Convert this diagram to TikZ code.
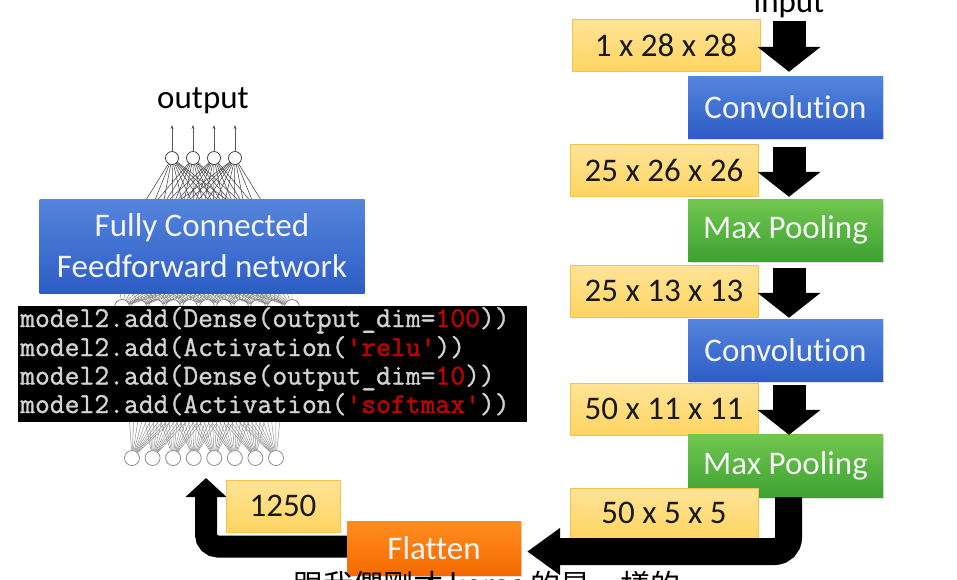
\documentclass[tikz,border=0pt]{standalone}
\usepackage{fontspec}
\setmainfont{Carlito}[Ligatures=NoCommon]
\setmonofont{Latin Modern Mono}[FakeBold=1.2]
\newfontfamily\cjkfont{Noto Sans CJK TC}
\usetikzlibrary{arrows.meta,shadows}
\definecolor{yelTop}{HTML}{FFE497}
\definecolor{yelBot}{HTML}{FFD562}
\definecolor{yelEdge}{HTML}{F3C24A}
\definecolor{bluTop}{HTML}{5585DC}
\definecolor{bluBot}{HTML}{2D5DC5}
\definecolor{grnTop}{HTML}{72C650}
\definecolor{grnBot}{HTML}{3EA232}
\definecolor{orgTop}{HTML}{FF8D1F}
\definecolor{orgBot}{HTML}{F56A00}
\definecolor{codegray}{HTML}{D2D2D2}
\definecolor{codered}{HTML}{C40000}
\definecolor{txtwhite}{HTML}{F4F4F4}
\tikzset{
  lab/.style={font=\fontsize{33}{40}\selectfont, inner sep=0pt},
  dimbox/.style={lab, rectangle, top color=yelTop, bottom color=yelBot, draw=yelEdge, line width=0.8pt, minimum width=188pt, minimum height=52pt, text=black!90},
  opbox/.style={lab, rectangle, minimum width=195pt, minimum height=62pt, text=txtwhite, drop shadow={opacity=0.25, shadow xshift=1pt, shadow yshift=-1.5pt}},
  convbox/.style={opbox, top color=bluTop, bottom color=bluBot},
  poolbox/.style={opbox, top color=grnTop, bottom color=grnBot},
  blockarrow/.style={line width=33pt, -{Triangle[width=62pt,length=25pt]}},
  bigarrow/.style={line width=27pt, rounded corners=14pt, -{Triangle[width=45pt,length=33pt]}},
  backarrow/.style={line width=22pt, rounded corners=12pt, -{Triangle[width=40pt,length=19pt]}},
  topneuron/.style={circle, draw=black!80, fill=white, line width=0.7pt, minimum size=13pt, inner sep=0pt},
  midneuron/.style={circle, draw=black!55, fill=white, line width=0.7pt, minimum size=15pt, inner sep=0pt},
  lowneuron/.style={circle, draw=black!45, fill=white, line width=0.8pt, minimum size=15pt, inner sep=0pt},
  tline/.style={draw=black!72, line width=0.55pt},
  mline/.style={draw=black!50, line width=0.45pt},
  bline/.style={draw=black!42, line width=0.5pt},
  outarrow/.style={draw=black!65, line width=0.6pt, -{Stealth[length=4pt,width=3pt]}},
  codeline/.style={anchor=base west, inner sep=0pt, font=\ttfamily\fontsize{28.8}{29}\selectfont, text=codegray}
}
\begin{document}
\begin{tikzpicture}[x=1pt,y=-1pt]
\useasboundingbox (0,0) rectangle (957,579);
\fill[white] (0,0) rectangle (957,579);

% ---------- neural network (left) ----------
\node[lab, anchor=base] (outlbl) at (203,108) {output};
\foreach \i/\x in {1/172,2/193,3/214,4/235} {
  \node[topneuron] (t\i) at (\x,158) {};
  \coordinate (o\i) at (\x,125);
}
\foreach \i in {1,...,10} {
  \pgfmathsetmacro\xx{115+(\i-1)*19.667}
  \coordinate (h\i) at (\xx,250);
}
\foreach \i in {1,...,11} {
  \pgfmathsetmacro\xx{122+(\i-1)*17}
  \node[midneuron] (a\i) at (\xx,307) {};
}
\foreach \i in {1,...,8} {
  \pgfmathsetmacro\xx{132+(\i-1)*20.57}
  \node[lowneuron] (b\i) at (\xx,458) {};
}
\foreach \i in {1,...,4} {
  \draw[outarrow] (t\i) -- (o\i);
  \foreach \j in {1,...,10} { \draw[tline] (t\i) -- (h\j); }
}
\foreach \i in {1,...,10} {
  \foreach \j in {1,...,11} { \draw[mline] (h\i) -- (a\j); }
}
\foreach \i in {1,...,11} {
  \foreach \j in {1,...,8} { \draw[bline] (a\i) -- (b\j); }
}

\node[lab, align=center, minimum width=325pt, minimum height=94pt,
      top color=bluTop, bottom color=bluBot, text=txtwhite,
      font=\fontsize{33}{41}\selectfont] (fc) at (202,246)
      {Fully Connected\\Feedforward network};

\node[fill=black, minimum width=509pt, minimum height=116pt, inner sep=0pt] (code) at (272.5,364) {};
\node[codeline] (c1) at (20,327) {model2.add(Dense(output\_dim=\textcolor{codered}{100}))};
\node[codeline] (c2) at (20,356) {model2.add(Activation(\textcolor{codered}{'relu'}))};
\node[codeline] (c3) at (20,384.5) {model2.add(Dense(output\_dim=\textcolor{codered}{10}))};
\node[codeline] (c4) at (20,413) {model2.add(Activation(\textcolor{codered}{'softmax'}))};

% ---------- CNN pipeline (right) ----------
\node[lab, anchor=base] (inlbl) at (789,12) {input};
\node[dimbox] (d0) at (666,45) {1 x 28 x 28};
\node[convbox] (conv1) at (785.5,107) {Convolution};
\node[dimbox] (d1) at (664,170) {25 x 26 x 26};
\node[poolbox] (mp1) at (785.5,230) {Max Pooling};
\node[dimbox] (d2) at (664,291) {25 x 13 x 13};
\node[convbox] (conv2) at (785.5,350) {Convolution};
\node[dimbox] (d3) at (664,409) {50 x 11 x 11};
\node[poolbox, minimum height=63pt] (mp2) at (785.5,465.5) {Max Pooling};
\node[dimbox, minimum height=50pt] (d4) at (664,513) {50 x 5 x 5};

\draw[blockarrow, shorten <=3.4pt, shorten >=4pt] (inlbl.south) -- (inlbl.south |- conv1.north);
\draw[blockarrow, shorten <=9pt, shorten >=2pt] ([xshift=3.5pt]conv1.south) -- ([xshift=3.5pt]mp1.north);
\draw[blockarrow, shorten <=7pt, shorten >=1pt] ([xshift=3.5pt]mp1.south) -- ([xshift=3.5pt]conv2.north);
\draw[blockarrow, shorten <=4pt, shorten >=-1pt] ([xshift=3.5pt]conv2.south) -- ([xshift=3.5pt]mp2.north);

% ---------- flatten ----------
\coordinate (fcin) at (206,478);
\node[lab, minimum width=174pt, minimum height=54pt, top color=orgTop, bottom color=orgBot, text=txtwhite,
      drop shadow={opacity=0.25, shadow xshift=1pt, shadow yshift=-1.5pt}] (flatten) at (434,548) {};
\draw[bigarrow] ([xshift=3pt]mp2.south) |- ([xshift=6pt,yshift=-3.5pt]flatten.east);
\draw[backarrow] ([yshift=1.5pt]flatten.west) -| (fcin);
\node[lab, minimum width=174pt, minimum height=54pt, top color=orgTop, bottom color=orgBot, text=txtwhite] (flattenlbl) at (434,548) {Flatten};
\node[dimbox, minimum width=114pt] (n1250) at (283,506) {1250};

% ---------- subtitle (cut off at the bottom, as in the reference) ----------
\node[anchor=base, inner sep=0pt, font=\cjkfont\fontsize{30}{36}\selectfont] (sub) at (487,596) {跟我們剛才 keras 的是一樣的};
\end{tikzpicture}
\end{document}
